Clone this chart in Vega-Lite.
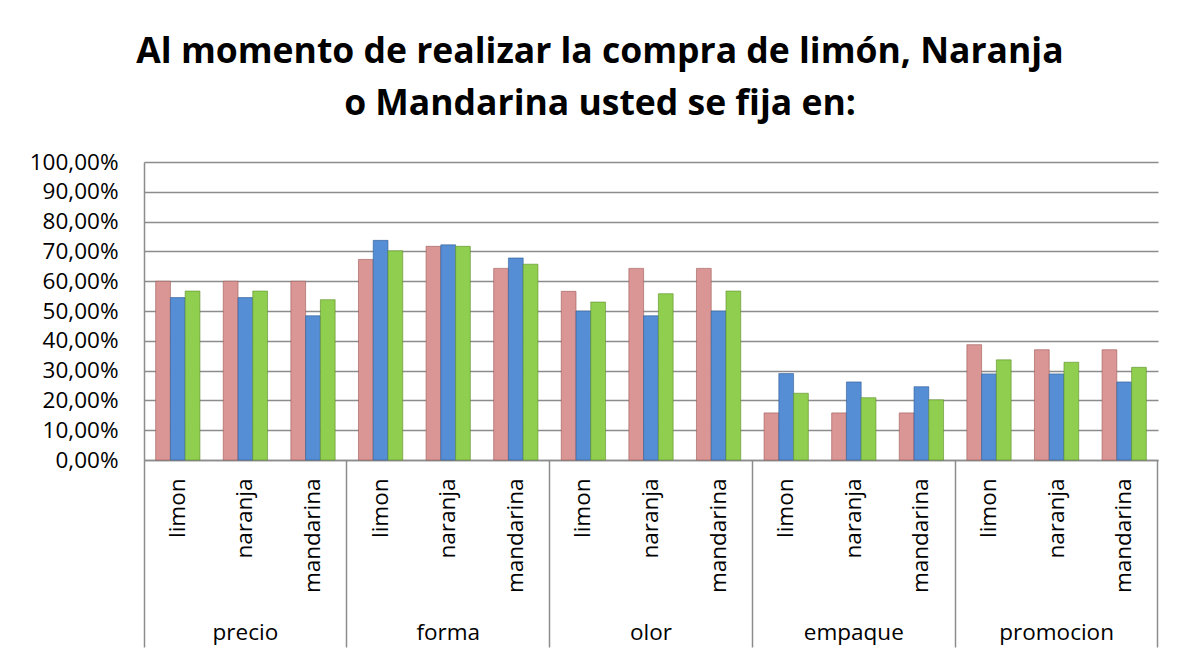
{
  "$schema": "https://vega.github.io/schema/vega-lite/v6.json",
  "autosize": "none",
  "width": 1014,
  "height": 298,
  "padding": {"left": 144, "top": 162, "right": 31, "bottom": 198},
  "background": "white",
  "config": {
    "view": {"stroke": null},
    "font": "Open Sans",
    "axis": {"labelFont": "Open Sans", "labelFontSize": 22.5, "labelColor": "#000000"}
  },
  "title": {
    "text": ["Al momento de realizar la compra de limón, Naranja", "o Mandarina usted se fija en:"],
    "font": "Open Sans",
    "fontSize": 35.5,
    "fontWeight": "bold",
    "lineHeight": 52,
    "color": "#000000",
    "anchor": "middle",
    "frame": "group",
    "dx": -51,
    "offset": 29
  },
  "data": {
    "values": [
      {"cat": "precio|limon", "serie": "Serie1", "valor": 0.600},
      {"cat": "precio|limon", "serie": "Serie2", "valor": 0.545},
      {"cat": "precio|limon", "serie": "Serie3", "valor": 0.567},
      {"cat": "precio|naranja", "serie": "Serie1", "valor": 0.600},
      {"cat": "precio|naranja", "serie": "Serie2", "valor": 0.545},
      {"cat": "precio|naranja", "serie": "Serie3", "valor": 0.567},
      {"cat": "precio|mandarina", "serie": "Serie1", "valor": 0.600},
      {"cat": "precio|mandarina", "serie": "Serie2", "valor": 0.484},
      {"cat": "precio|mandarina", "serie": "Serie3", "valor": 0.538},
      {"cat": "forma|limon", "serie": "Serie1", "valor": 0.673},
      {"cat": "forma|limon", "serie": "Serie2", "valor": 0.737},
      {"cat": "forma|limon", "serie": "Serie3", "valor": 0.702},
      {"cat": "forma|naranja", "serie": "Serie1", "valor": 0.717},
      {"cat": "forma|naranja", "serie": "Serie2", "valor": 0.722},
      {"cat": "forma|naranja", "serie": "Serie3", "valor": 0.717},
      {"cat": "forma|mandarina", "serie": "Serie1", "valor": 0.643},
      {"cat": "forma|mandarina", "serie": "Serie2", "valor": 0.678},
      {"cat": "forma|mandarina", "serie": "Serie3", "valor": 0.657},
      {"cat": "olor|limon", "serie": "Serie1", "valor": 0.566},
      {"cat": "olor|limon", "serie": "Serie2", "valor": 0.500},
      {"cat": "olor|limon", "serie": "Serie3", "valor": 0.530},
      {"cat": "olor|naranja", "serie": "Serie1", "valor": 0.643},
      {"cat": "olor|naranja", "serie": "Serie2", "valor": 0.484},
      {"cat": "olor|naranja", "serie": "Serie3", "valor": 0.558},
      {"cat": "olor|mandarina", "serie": "Serie1", "valor": 0.643},
      {"cat": "olor|mandarina", "serie": "Serie2", "valor": 0.500},
      {"cat": "olor|mandarina", "serie": "Serie3", "valor": 0.567},
      {"cat": "empaque|limon", "serie": "Serie1", "valor": 0.158},
      {"cat": "empaque|limon", "serie": "Serie2", "valor": 0.290},
      {"cat": "empaque|limon", "serie": "Serie3", "valor": 0.224},
      {"cat": "empaque|naranja", "serie": "Serie1", "valor": 0.158},
      {"cat": "empaque|naranja", "serie": "Serie2", "valor": 0.262},
      {"cat": "empaque|naranja", "serie": "Serie3", "valor": 0.209},
      {"cat": "empaque|mandarina", "serie": "Serie1", "valor": 0.158},
      {"cat": "empaque|mandarina", "serie": "Serie2", "valor": 0.246},
      {"cat": "empaque|mandarina", "serie": "Serie3", "valor": 0.202},
      {"cat": "promocion|limon", "serie": "Serie1", "valor": 0.387},
      {"cat": "promocion|limon", "serie": "Serie2", "valor": 0.289},
      {"cat": "promocion|limon", "serie": "Serie3", "valor": 0.336},
      {"cat": "promocion|naranja", "serie": "Serie1", "valor": 0.370},
      {"cat": "promocion|naranja", "serie": "Serie2", "valor": 0.289},
      {"cat": "promocion|naranja", "serie": "Serie3", "valor": 0.328},
      {"cat": "promocion|mandarina", "serie": "Serie1", "valor": 0.370},
      {"cat": "promocion|mandarina", "serie": "Serie2", "valor": 0.262},
      {"cat": "promocion|mandarina", "serie": "Serie3", "valor": 0.311}
    ]
  },
  "resolve": {"axis": {"x": "independent"}},
  "layer": [
    {
      "mark": {"type": "bar", "strokeWidth": 1, "strokeOpacity": 0.6},
      "encoding": {
        "x": {
          "field": "cat", "type": "nominal", "sort": null,
          "scale": {"paddingInner": 0, "paddingOuter": 0},
          "axis": {
            "orient": "bottom", "title": null,
            "labelExpr": "split(datum.value, '|')[1]",
            "labelAngle": 270, "labelAlign": "right", "labelBaseline": "middle",
            "labelPadding": 18, "ticks": false, "domain": true,
            "domainColor": "#8c8c8c", "domainWidth": 1.5, "grid": false
          }
        },
        "xOffset": {
          "field": "serie", "type": "nominal",
          "scale": {"paddingOuter": 0.79, "paddingInner": 0}
        },
        "y": {
          "field": "valor", "type": "quantitative",
          "scale": {"domain": [0, 1], "nice": false},
          "axis": {
            "title": null,
            "values": [0, 0.1, 0.2, 0.3, 0.4, 0.5, 0.6, 0.7, 0.8, 0.9, 1],
            "labelExpr": "replace(format(datum.value, '.2%'), '.', ',')",
            "labelPadding": 26, "ticks": false,
            "domainColor": "#8c8c8c", "domainWidth": 1.5,
            "grid": true, "gridColor": "#8c8c8c", "gridWidth": 1.5
          }
        },
        "color": {
          "field": "serie", "type": "nominal", "legend": null,
          "scale": {"domain": ["Serie1", "Serie2", "Serie3"], "range": ["#D99694", "#558ED5", "#8FCE4E"]}
        },
        "stroke": {
          "field": "serie", "type": "nominal", "legend": null,
          "scale": {"domain": ["Serie1", "Serie2", "Serie3"], "range": ["#9E5A58", "#2E5C94", "#5E8E2A"]}
        }
      }
    },
    {
      "mark": {"type": "point", "opacity": 0},
      "encoding": {
        "x": {
          "field": "cat", "type": "nominal", "sort": null,
          "axis": {
            "orient": "bottom", "title": null,
            "values": ["precio|naranja", "forma|naranja", "olor|naranja", "empaque|naranja", "promocion|naranja"],
            "labelExpr": "split(datum.value, '|')[0]",
            "labelAngle": 0, "labelAlign": "center", "labelBaseline": "middle",
            "labelPadding": 172, "ticks": false, "domain": false, "grid": false
          }
        }
      }
    },
    {
      "mark": {"type": "point", "opacity": 0},
      "encoding": {
        "x": {
          "field": "cat", "type": "nominal", "sort": null,
          "axis": {
            "orient": "bottom", "title": null,
            "values": ["precio|limon", "forma|limon", "olor|limon", "empaque|limon", "promocion|limon"],
            "bandPosition": 0, "labels": false,
            "ticks": true, "tickSize": 187, "tickColor": "#8c8c8c", "tickWidth": 1.5,
            "domain": false, "grid": false
          }
        }
      }
    },
    {
      "mark": {"type": "point", "opacity": 0},
      "encoding": {
        "x": {
          "field": "cat", "type": "nominal", "sort": null,
          "axis": {
            "orient": "bottom", "title": null,
            "values": ["promocion|mandarina"],
            "bandPosition": 1, "labels": false,
            "ticks": true, "tickSize": 187, "tickColor": "#8c8c8c", "tickWidth": 1.5,
            "domain": false, "grid": false
          }
        }
      }
    }
  ]
}
